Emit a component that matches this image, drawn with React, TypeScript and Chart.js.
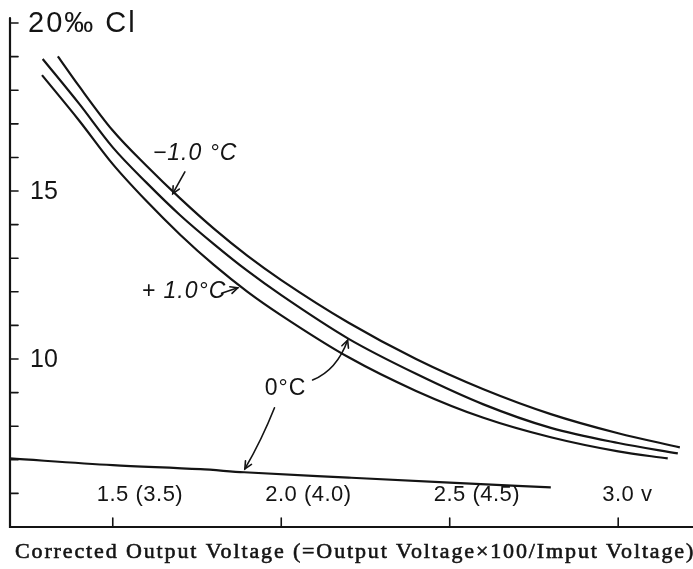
import React, { useEffect, useRef } from "react";
import { Chart, registerables } from "chart.js";

Chart.register(...registerables);

// ---- Data ----
// -1.0 °C curve
const minusX = [1.337, 1.4, 1.5, 1.6, 1.7, 1.8, 1.9, 2.0, 2.2, 2.4, 2.6, 2.8, 3.0, 3.183];
const minusY = [19.01, 18.12, 16.8, 15.75, 14.78, 13.88, 13.07, 12.35, 11.08, 10.0, 9.1, 8.36, 7.79, 7.37];
// 0 °C curve
const zeroX = [1.292, 1.4, 1.5, 1.6, 1.7, 1.8, 1.9, 2.0, 2.2, 2.4, 2.6, 2.8, 3.0, 3.177];
const zeroY = [18.93, 17.6, 16.3, 15.25, 14.28, 13.42, 12.62, 11.9, 10.6, 9.56, 8.65, 7.95, 7.5, 7.19];
// +1.0 °C curve
const plusX = [1.29, 1.4, 1.5, 1.6, 1.7, 1.8, 1.9, 2.0, 2.2, 2.4, 2.6, 2.8, 3.0, 3.147];
const plusY = [18.45, 17.1, 15.8, 14.7, 13.7, 12.8, 12.0, 11.3, 10.05, 9.05, 8.25, 7.67, 7.25, 7.04];
// lower (nearly straight) line
const lowX = [1.195, 1.5, 1.76, 1.89, 2.2, 2.5, 2.8];
const lowY = [7.04, 6.84, 6.72, 6.63, 6.47, 6.32, 6.18];

// axis ranges and ticks
const xMin = 1.195;
const xMax = 3.222;
const yMin = 5;
const yMax = 20.15;
const yMinorTicks = [6, 7, 8, 9, 10, 11, 12, 13, 14, 15, 16, 17, 18, 19, 20];
const yLabelValues = [10, 15, 20];
const yLabelTexts = ["10", "15", "20\u2030 Cl"];
const xTickValues = [1.5, 2.0, 2.5, 3.0];
const xTickLabels = ["1.5 (3.5)", "2.0 (4.0)", "2.5 (4.5)", "3.0 v"];

const captionText = "Corrected Output Voltage (=Output Voltage\u00d7100/Imput Voltage)";

// curve labels (anchor in data units)
const curveLabelTexts = ["\u22121.0 \u00b0C", "+ 1.0\u00b0C", "0\u00b0C"];
const curveLabelX = [1.619, 1.586, 1.951];
const curveLabelY = [16.1, 12.02, 9.11];

// arrows (data units): from, control, to
const arrows = [
  { fx: 1.714, fy: 15.57, cx: 1.696, cy: 15.25, tx: 1.678, ty: 14.92 },
  { fx: 1.823, fy: 11.96, cx: 1.847, cy: 12.04, tx: 1.871, ty: 12.12 },
  { fx: 2.093, fy: 9.375, cx: 2.165, cy: 9.67, tx: 2.197, ty: 10.56 },
  { fx: 1.98, fy: 8.55, cx: 1.942, cy: 7.59, tx: 1.892, ty: 6.73 },
];

const toPts = (xs: number[], ys: number[]) => xs.map((x, i) => ({ x, y: ys[i] }));

const INK = "#141414";

const overlay = {
  id: "overlay",
  afterDatasetsDraw(chart: any) {
    const { ctx, chartArea: a, scales } = chart;
    const px = (v: number) => scales.x.getPixelForValue(v);
    const py = (v: number) => scales.y.getPixelForValue(v);
    ctx.save();
    ctx.strokeStyle = INK;
    ctx.fillStyle = INK;
    ctx.lineCap = "round";

    // axes
    ctx.lineWidth = 2.2;
    ctx.beginPath();
    ctx.moveTo(a.left, a.top);
    ctx.lineTo(a.left, a.bottom);
    ctx.lineTo(a.right, a.bottom);
    ctx.stroke();

    // y ticks (inward)
    ctx.lineWidth = 1.6;
    for (const v of yMinorTicks) {
      const y = py(v);
      ctx.beginPath();
      ctx.moveTo(a.left, y);
      ctx.lineTo(a.left + 8, y);
      ctx.stroke();
    }
    // x ticks (inward)
    for (const v of xTickValues) {
      const x = px(v);
      ctx.beginPath();
      ctx.moveTo(x, a.bottom);
      ctx.lineTo(x, a.bottom - 9);
      ctx.stroke();
    }

    // y labels
    ctx.textBaseline = "middle";
    ctx.textAlign = "left";
    yLabelValues.forEach((v, i) => {
      const big = i === yLabelValues.length - 1;
      ctx.font = big ? "29px 'Liberation Sans'" : "25px 'Liberation Sans'";
      (ctx as any).letterSpacing = big ? "2px" : "0px";
      ctx.fillText(yLabelTexts[i], a.left + (big ? 18 : 20), py(v) + 1);
    });

    // x labels
    ctx.font = "22px 'Liberation Sans'";
    (ctx as any).letterSpacing = "0.5px";
    xTickValues.forEach((v, i) => {
      ctx.fillText(xTickLabels[i], px(v) - 16, a.bottom - 32);
    });

    // curve labels
    (ctx as any).letterSpacing = "1px";
    curveLabelTexts.forEach((t, i) => {
      ctx.font = i < 2 ? "italic 23px 'Liberation Sans'" : "23px 'Liberation Sans'";
      ctx.fillText(t, px(curveLabelX[i]), py(curveLabelY[i]));
    });
    (ctx as any).letterSpacing = "0px";

    // arrows
    ctx.lineWidth = 1.6;
    for (const ar of arrows) {
      const fx = px(ar.fx), fy = py(ar.fy);
      const cx = px(ar.cx), cy = py(ar.cy);
      const tx = px(ar.tx), ty = py(ar.ty);
      ctx.beginPath();
      ctx.moveTo(fx, fy);
      ctx.quadraticCurveTo(cx, cy, tx, ty);
      ctx.stroke();
      const ang = Math.atan2(ty - cy, tx - cx);
      const L = 8;
      ctx.beginPath();
      ctx.moveTo(tx - L * Math.cos(ang - 0.45), ty - L * Math.sin(ang - 0.45));
      ctx.lineTo(tx, ty);
      ctx.lineTo(tx - L * Math.cos(ang + 0.45), ty - L * Math.sin(ang + 0.45));
      ctx.stroke();
    }

    // caption
    ctx.font = "22px 'Liberation Serif'";
    (ctx as any).letterSpacing = "0px";
    const w = ctx.measureText(captionText).width;
    const target = 680;
    const ls = Math.max(0, (target - w) / captionText.length);
    (ctx as any).letterSpacing = ls.toFixed(2) + "px";
    ctx.textBaseline = "middle";
    ctx.lineWidth = 0.6;
    ctx.fillText(captionText, a.left + 5, a.bottom + 25);
    ctx.strokeText(captionText, a.left + 5, a.bottom + 25);
    ctx.restore();
  },
};

export default function App() {
  const ref = useRef<HTMLCanvasElement | null>(null);
  useEffect(() => {
    document.body.style.margin = "0";
    document.body.style.background = "#fff";
    if (!ref.current) return;
    const line = (data: any) => ({
      data,
      borderColor: INK,
      borderWidth: 2.2,
      pointRadius: 0,
      fill: false,
      cubicInterpolationMode: "monotone" as const,
      tension: 0.4,
    });
    const chart = new Chart(ref.current, {
      type: "line",
      data: {
        datasets: [
          { label: "-1.0 °C", ...line(toPts(minusX, minusY)) },
          { label: "0 °C", ...line(toPts(zeroX, zeroY)) },
          { label: "+1.0 °C", ...line(toPts(plusX, plusY)) },
          { label: "lower", ...line(toPts(lowX, lowY)) },
        ],
      },
      options: {
        animation: false,
        responsive: true,
        maintainAspectRatio: false,
        layout: { padding: { left: 10, top: 18, right: 0, bottom: 42 } },
        plugins: { legend: { display: false }, tooltip: { enabled: false } },
        scales: {
          x: { type: "linear", display: false, min: xMin, max: xMax },
          y: { type: "linear", display: false, min: yMin, max: yMax },
        },
      },
      plugins: [overlay],
    });
    return () => chart.destroy();
  }, []);
  return (
    <div style={{ position: "absolute", left: 0, top: 0, width: 693, height: 569, background: "#fff" }}>
      <canvas ref={ref} />
    </div>
  );
}
